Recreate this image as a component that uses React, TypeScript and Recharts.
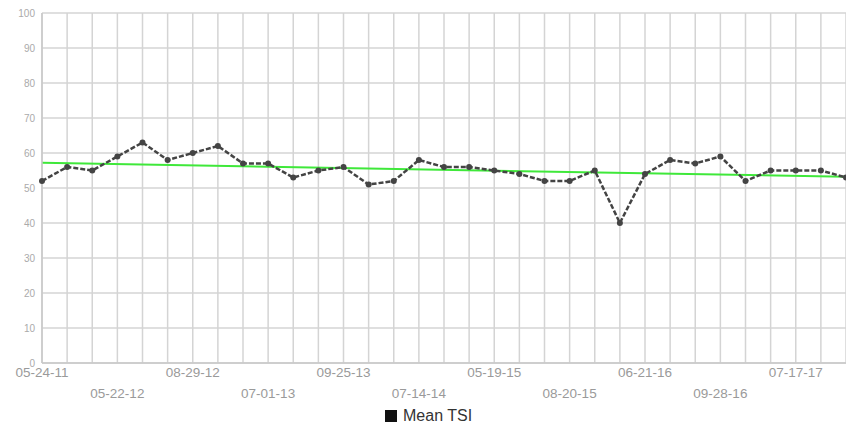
import React from 'react';
import { LineChart, Line, XAxis, YAxis, CartesianGrid, ReferenceLine, Legend } from 'recharts';

const meanTSI = [52, 56, 55, 59, 63, 58, 60, 62, 57, 57, 53, 55, 56, 51, 52, 58, 56, 56, 55, 54, 52, 52, 55, 40, 54, 58, 57, 59, 52, 55, 55, 55, 53];
const tickLabels = ['05-24-11', '05-22-12', '08-29-12', '07-01-13', '09-25-13', '07-14-14', '05-19-15', '08-20-15', '06-21-16', '09-28-16', '07-17-17'];
const labelEvery = 3;
const trendStart = 57.2;
const trendEnd = 53.2;
const yTicks = [0, 10, 20, 30, 40, 50, 60, 70, 80, 90, 100];

const data = meanTSI.map((v, i) => ({ idx: i, tsi: v }));
const xTicks = data.map((d) => d.idx);
const lastIdx = data.length - 1;

const XTick = (props: any) => {
  const { x, y, payload } = props;
  const i = payload.value as number;
  if (i % labelEvery !== 0) return null;
  const k = i / labelEvery;
  const label = tickLabels[k];
  if (!label) return null;
  const row = k % 2;
  return (
    <text x={x} y={y + (row ? 27 : 6)} textAnchor="middle" fill="#9a9a9a" fontSize={13.5} fontFamily="Liberation Sans, Arial, sans-serif">
      {label}
    </text>
  );
};

const LegendContent = () => (
  <div style={{ display: 'flex', alignItems: 'center', fontFamily: 'Liberation Sans, Arial, sans-serif', fontSize: 16, color: '#333' }}>
    <div style={{ width: 12, height: 12, background: '#111', marginRight: 6 }} />
    <span>Mean TSI</span>
  </div>
);

export default function App() {
  return (
    <div style={{ position: 'absolute', left: 0, top: 0, width: 846, height: 425, background: '#fff' }}>
      <LineChart width={846} height={425} data={data} margin={{ top: 13, right: 0, left: 0, bottom: 4 }}>
        <CartesianGrid stroke="#d4d4d4" strokeWidth={1.5} />
        <XAxis
          dataKey="idx"
          type="number"
          domain={[0, lastIdx]}
          ticks={xTicks}
          interval={0}
          tickLine={false}
          axisLine={{ stroke: '#c8c8c8', strokeWidth: 1.5 }}
          tick={<XTick />}
          height={40}
        />
        <YAxis
          domain={[0, 100]}
          ticks={yTicks}
          width={42}
          tickLine={false}
          axisLine={{ stroke: '#c8c8c8', strokeWidth: 1.5 }}
          tick={{ fill: '#aaa', fontSize: 10, fontFamily: 'Liberation Sans, Arial, sans-serif' }}
          tickMargin={1}
        />
        <ReferenceLine
          segment={[{ x: 0, y: trendStart }, { x: lastIdx, y: trendEnd }]}
          stroke="#3fe83a"
          strokeWidth={2}
          ifOverflow="extendDomain"
        />
        <Line
          type="linear"
          dataKey="tsi"
          stroke="#444"
          strokeWidth={2.5}
          strokeDasharray="5 2"
          dot={{ r: 3, fill: '#444', stroke: '#444', strokeWidth: 0 }}
          isAnimationActive={false}
        />
        <Legend
          content={<LegendContent />}
          wrapperStyle={{ position: 'absolute', left: 385, bottom: 0, width: 'auto', height: 18 }}
        />
      </LineChart>
    </div>
  );
}
